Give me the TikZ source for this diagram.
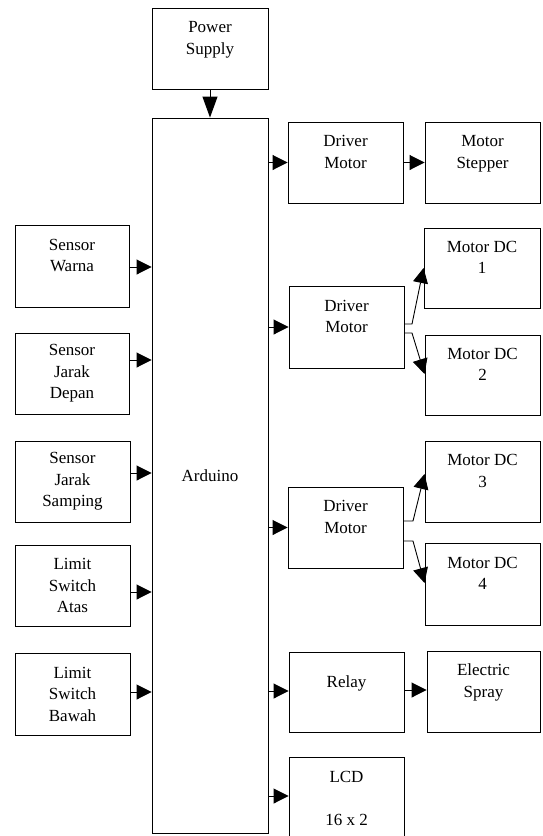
\documentclass[tikz,border=0pt]{standalone}
\usepackage{fontspec}
\setmainfont{Liberation Serif}
\usetikzlibrary{arrows.meta}
\begin{document}
\begin{tikzpicture}[x=1pt,y=-1pt,
  blk/.style={draw, line width=0.9pt, inner sep=0pt, align=center,
    minimum width=115pt, minimum height=81pt, font=\fontsize{17}{21.5}\selectfont},
  arr/.style={line width=0.9pt, -{Triangle[length=15pt,width=15pt]}},
  arrv/.style={line width=0.9pt, -{Triangle[length=21pt,width=15pt]}}]
\useasboundingbox (0,0) rectangle (543,836);
% centre column
\node[blk, minimum width=116pt] (ps) at (210,48.5) {Power\\Supply\\~};
\node[blk, minimum width=116pt, minimum height=715pt] (ard) at (210,475.5) {Arduino};
% left column
\node[blk, minimum width=114pt, minimum height=82pt] (sw) at (72,266) {Sensor\\Warna\\~};
\node[blk, minimum width=114pt] (sjd) at (72,373.5) {Sensor\\Jarak\\Depan};
\node[blk] (sjs) at (72.5,481.5) {Sensor\\Jarak\\Samping};
\node[blk] (lsa) at (72.5,585.5) {Limit\\Switch\\Atas};
\node[blk, minimum height=82pt] (lsb) at (72.5,694) {Limit\\Switch\\Bawah};
% right columns
\node[blk] (dm1) at (345.5,162.5) {Driver\\Motor\\~};
\node[blk] (ms) at (482.5,162.5) {Motor\\Stepper\\~};
\node[blk, minimum height=82pt] (dm2) at (346.5,327) {Driver\\Motor\\~};
\node[blk, minimum width=116pt, minimum height=80pt] (dc1) at (482,268) {Motor DC\\1\\~};
\node[blk, minimum height=80pt] (dc2) at (482.5,375) {Motor DC\\2\\~};
\node[blk] (dm3) at (345.5,527.5) {Driver\\Motor\\~};
\node[blk] (dc3) at (482.5,481.5) {Motor DC\\3\\~};
\node[blk, minimum height=82pt] (dc4) at (482.5,584) {Motor DC\\4\\~};
\node[blk, minimum height=80pt] (relay) at (346.5,692) {Relay\\~};
\node[blk, minimum width=113pt] (spray) at (483.5,691.5) {Electric\\Spray\\~};
\node[blk, minimum height=83pt] (lcd) at (346.5,798.5) {LCD\\~\\16 x 2};
% connectors
\draw[arrv] (ps) -- (ard);
\draw[arr] (sw.east |- 0,267) -- (ard.west |- 0,267);
\draw[arr] (sjd.east |- 0,360) -- (ard.west |- 0,360);
\draw[arr] (sjs.east |- 0,473) -- (ard.west |- 0,473);
\draw[arr] (lsa.east |- 0,592) -- (ard.west |- 0,592);
\draw[arr] (lsb.east |- 0,692) -- (ard.west |- 0,692);
\draw[arr] (ard.east |- dm1) -- (dm1);
\draw[arr] (dm1) -- (ms);
\draw[arr] (ard.east |- dm2) -- (dm2);
\draw[arr] (ard.east |- dm3) -- (dm3);
\draw[arr] (ard.east |- 0,691) -- (relay.west |- 0,691);
\draw[arr] (relay.east |- 0,690) -- (spray.west |- 0,690);
\draw[arr] (ard.east |- 0,796) -- (lcd.west |- 0,796);
\draw[arr] (dm2.east |- 0,324) -- (412,324) -- (dc1.west);
\draw[arr] (dm2.east |- 0,333) -- (412,333) -- (dc2.west |- 0,374);
\draw[arr] (dm3.east |- 0,521) -- (413,521) -- (dc3.west |- 0,474);
\draw[arr] (dm3.east |- 0,541) -- (413,541) -- (dc4.west |- 0,583);
\end{tikzpicture}
\end{document}
